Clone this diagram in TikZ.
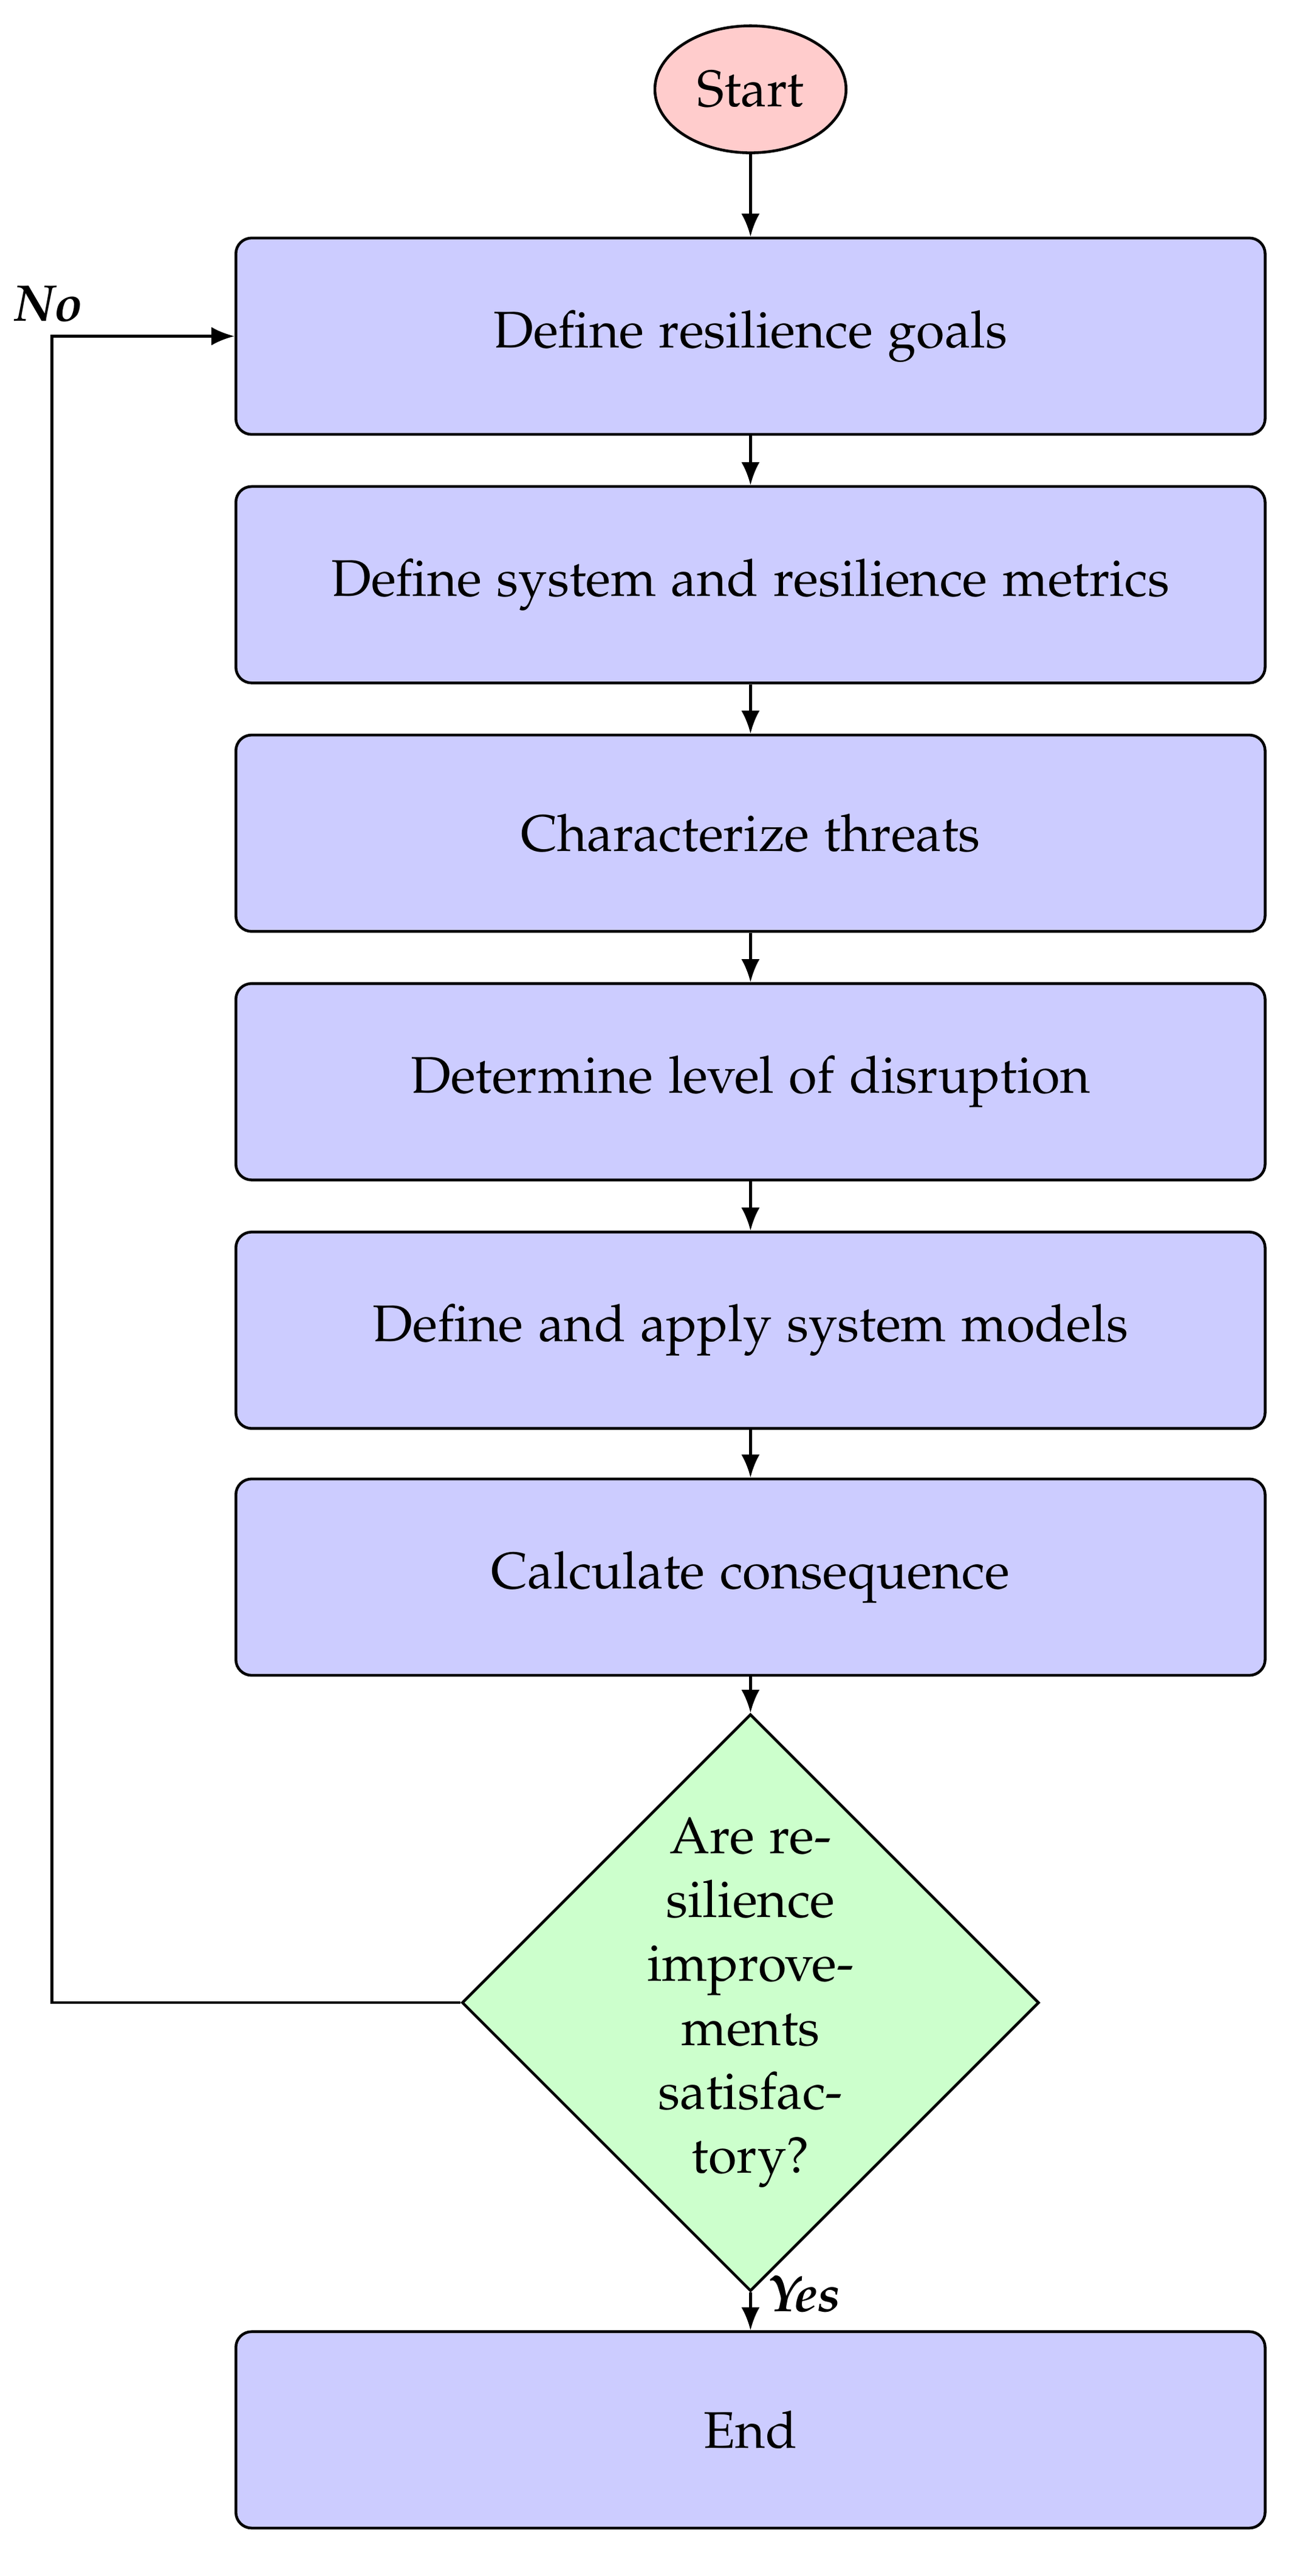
\documentclass[tikz,border=0pt]{standalone}
\usepackage[T1]{fontenc}
\usepackage[sc]{mathpazo}
\usetikzlibrary{shapes.geometric,arrows.meta}
\begin{document}
\begin{tikzpicture}[x=0.0124cm,y=-0.0124cm,
  txt/.style={font=\fontsize{11.2}{13.9}\selectfont},
  box/.style={draw,rounded corners=0.12cm,fill=blue!20,minimum width=7.86cm,minimum height=1.5cm,txt},
  lab/.style={font=\fontsize{11.2}{13.9}\selectfont\bfseries\itshape},
  arr/.style={-{Latex[length=5pt,width=4pt]},line width=0.6pt},
  every node/.style={line width=0.6pt}]
\useasboundingbox (0,0) rectangle (800,1586);
\node[draw,ellipse,fill=red!20,minimum width=1.46cm,minimum height=0.97cm,inner sep=1pt,txt] (s) at (462,55) {Start};
\node[box] (b1) at (462,207) {Define resilience goals};
\node[box] (b2) at (462,360) {Define system and resilience metrics};
\node[box] (b3) at (462,513) {Characterize threats};
\node[box] (b4) at (462,666) {Determine level of disruption};
\node[box] (b5) at (462,819) {Define and apply system models};
\node[box] (b6) at (462,971) {Calculate consequence};
\node[draw,diamond,fill=green!20,minimum width=4.19cm,minimum height=4.14cm,inner sep=0pt,align=center,txt] (d) at (462,1233) {Are re-\\silience\\improve-\\ments\\satisfac-\\tory?};
\node[box] (e) at (462,1496) {End};
\coordinate (c1) at (32,1233);
\coordinate (c2) at (32,207);
\draw[arr] (s) -- (b1);
\draw[arr] (b1) -- (b2);
\draw[arr] (b2) -- (b3);
\draw[arr] (b3) -- (b4);
\draw[arr] (b4) -- (b5);
\draw[arr] (b5) -- (b6);
\draw[arr] (b6) -- (d);
\draw[arr] (d) -- (e);
\node[lab] (y) at (495,1412) {Yes};
\draw[arr] (d.west) -- (c1) -- (c2) -- (b1.west);
\node[lab] (no) at (30,187) {No};
\end{tikzpicture}
\end{document}
